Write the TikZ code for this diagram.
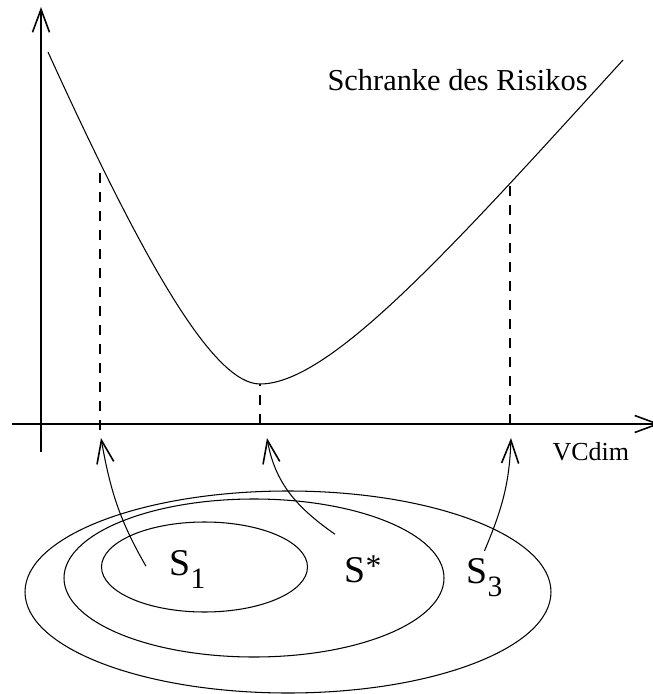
\documentclass[tikz,border=0pt]{standalone}
\usepackage{fontspec}
\setmainfont{Liberation Serif}
\usetikzlibrary{arrows.meta}

\tikzset{
  setname/.style={anchor=base west, inner sep=0pt, font=\fontsize{21.5}{24}\selectfont},
  guide/.style={dash pattern=on 0.2cm off 0.18cm},
}
\newcommand{\lowsub}[1]{\raisebox{-0.27cm}{\fontsize{16.8}{18}\selectfont #1}}

\begin{document}
\begin{tikzpicture}[>={Straight Barb[length=0.46cm,width=0.34cm,line width=0.9pt]}, line width=0.6pt]
        \useasboundingbox (-0.82,-5.4) rectangle (12.22,8.48);

        % Axes
        \coordinate (O) at (0,0);
        \draw[->] (0,-0.56) -- (0,8.34);
        \draw[->] (-0.58,0) -- (12.38,0);
        \node [anchor=base west, inner sep=0pt, font=\fontsize{14.8}{16}\selectfont] (vc) at (10.22,-0.72) {VCdim};

        % Bound
        \draw (0.14,7.44) .. controls (2.14,3.04) and (3.48,0.8) .. (4.38,0.8)
              .. controls (5.78,0.8) and (8.18,3.48) .. (11.64,7.28);
        \node [anchor=base west, inner sep=0pt, font=\fontsize{17.3}{19}\selectfont] (bound) at (5.72,6.68) {Schranke des Risikos};

        \coordinate (c1) at (1.18,5.12);
        \coordinate (c2) at (4.38,0.8);
        \coordinate (c3) at (9.38,4.82);
        \draw[guide] (1.18,-0.12) -- (c1);
        \draw[guide] (c2 |- O) -- (c2);
        \draw[guide] (c3 |- O) -- (c3);

        % Nested sets
        \draw (4.94,-3.36) ellipse [x radius=5.26, y radius=2.02];
        \draw (4.26,-3.08) ellipse [x radius=3.8, y radius=1.58];
        \draw (3.27,-2.86) ellipse [x radius=2.06, y radius=0.9];

        \node [setname] (s1)    at (2.56,-3.02) {S\lowsub{1}};
        \node [setname] (sstar) at (6.06,-3.16) {S\raisebox{0.12cm}{\fontsize{18}{20}\selectfont *}};
        \node [setname] (s3)    at (8.5,-3.18)  {S\lowsub{3}};

        % Arrows
        \coordinate (h1) at (1.2,-0.28);
        \coordinate (h2) at (4.52,-0.28);
        \coordinate (h3) at (9.4,-0.28);
        \draw[->] ([shift={(-0.46,0.06)}]s1.west) to[out=120, in=-80] (h1);
        \draw[->] ([shift={(-0.18,0.41)}]sstar.north west) to[out=145, in=-80] (h2);
        \draw[->] ([yshift=0.13cm]s3.north) to[out=67, in=-92] (h3);

\end{tikzpicture}
\end{document}
